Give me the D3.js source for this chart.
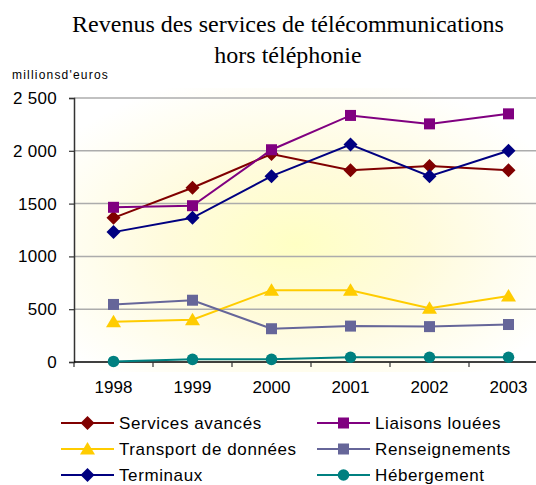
<!DOCTYPE html>
<html>
<head>
<meta charset="utf-8">
<script src="https://cdn.jsdelivr.net/npm/d3@7"></script>
<style>
  body { margin: 0; background: #fff; }
  svg { display: block; }
</style>
</head>
<body>
<div class="chart"></div>
<script>
const years = ["1998", "1999", "2000", "2001", "2002", "2003"]
const yTicks = [0, 500, 1000, 1500, 2000, 2500]
const yTickLabels = ["0", "500", "1000", "1500", "2 000", "2 500"]

const servicesAvances = [1365, 1650, 1970, 1815, 1855, 1815]
const liaisonsLouees = [1465, 1480, 2010, 2335, 2255, 2350]
const transport = [380, 400, 680, 680, 510, 625]
const renseignements = [545, 585, 315, 340, 335, 355]
const terminaux = [1230, 1365, 1760, 2060, 1760, 2000]
const hebergement = [5, 25, 25, 45, 45, 45]

const series = [
  {name: "Services avancés", values: servicesAvances, color: "#800000", shape: "diamond"},
  {name: "Liaisons louées", values: liaisonsLouees, color: "#800080", shape: "square"},
  {name: "Transport de données", values: transport, color: "#FFCC00", shape: "triangle"},
  {name: "Renseignements", values: renseignements, color: "#666699", shape: "square"},
  {name: "Terminaux", values: terminaux, color: "#000080", shape: "diamond"},
  {name: "Hébergement", values: hebergement, color: "#008080", shape: "circle"}
]

const W = 536, H = 485
const margin = {left: 74, top: 98, bottom: 362}
const band = 79
const sans = "Liberation Sans, Arial, sans-serif"

const svg = d3.select(".chart").append("svg")
  .attr("width", W)
  .attr("height", H)

// background glow
const defs = svg.append("defs")
const grad = defs.append("radialGradient")
  .attr("id", "glow")
  .attr("cx", "0.48").attr("cy", "0.55").attr("r", "0.62")
grad.append("stop").attr("offset", "0%").attr("stop-color", "#ffffc4")
grad.append("stop").attr("offset", "45%").attr("stop-color", "#fffbdc")
grad.append("stop").attr("offset", "100%").attr("stop-color", "#ffffff")

svg.append("rect")
  .attr("x", margin.left).attr("y", margin.top - 10)
  .attr("width", W - margin.left).attr("height", margin.bottom - margin.top + 20)
  .attr("fill", "url(#glow)")

const x = d3.scaleBand()
  .domain(years)
  .range([margin.left, margin.left + band * years.length])

const y = d3.scaleLinear()
  .domain([0, 2500])
  .range([margin.bottom, margin.top])

// gridlines
svg.append("g")
  .selectAll("line")
  .data(yTicks.filter(d => d > 0))
  .enter()
  .append("line")
  .attr("x1", margin.left).attr("x2", W)
  .attr("y1", d => y(d)).attr("y2", d => y(d))
  .attr("stroke", "#acacac")
  .attr("stroke-width", 1.5)

// y axis
const yAxis = d3.axisLeft(y)
  .tickValues(yTicks)
  .tickSize(5)
  .tickFormat((d, i) => yTickLabels[i])

const yAxisGroup = svg.append("g")
  .attr("transform", `translate(${margin.left},0)`)
  .call(yAxis)
yAxisGroup.select(".domain").attr("stroke", "#333").attr("stroke-width", 1.5)
yAxisGroup.selectAll(".tick line").attr("stroke", "#333").attr("stroke-width", 1.2)
yAxisGroup.selectAll("text")
  .attr("font-family", sans)
  .attr("font-size", 17)
  .attr("letter-spacing", 0.3)
  .attr("fill", "#000")
  .attr("x", -17)

// x axis
const boundaries = d3.range(years.length + 1).map(i => margin.left + i * band)
svg.append("line")
  .attr("x1", margin.left).attr("x2", W)
  .attr("y1", margin.bottom).attr("y2", margin.bottom)
  .attr("stroke", "#000").attr("stroke-width", 1.5)
svg.append("g")
  .selectAll("line")
  .data(boundaries)
  .enter()
  .append("line")
  .attr("x1", d => d).attr("x2", d => d)
  .attr("y1", margin.bottom).attr("y2", margin.bottom + 5)
  .attr("stroke", "#333").attr("stroke-width", 1.2)

svg.append("g")
  .selectAll("text")
  .data(years)
  .enter()
  .append("text")
  .attr("x", d => x(d) + band / 2)
  .attr("y", 393)
  .attr("text-anchor", "middle")
  .attr("font-family", sans)
  .attr("font-size", 17)
  .text(d => d)

function marker(g, shape, color, cx, cy) {
  if (shape === "diamond") {
    g.append("path")
      .attr("d", `M${cx},${cy - 7}L${cx + 7},${cy}L${cx},${cy + 7}L${cx - 7},${cy}Z`)
      .attr("fill", color)
  } else if (shape === "square") {
    g.append("rect")
      .attr("x", cx - 5.5).attr("y", cy - 5.5)
      .attr("width", 11).attr("height", 11)
      .attr("fill", color)
  } else if (shape === "triangle") {
    g.append("path")
      .attr("d", `M${cx},${cy - 7}L${cx + 7.5},${cy + 5.5}L${cx - 7.5},${cy + 5.5}Z`)
      .attr("fill", color)
  } else {
    g.append("circle")
      .attr("cx", cx).attr("cy", cy).attr("r", 5.8)
      .attr("fill", color)
  }
}

const line = d3.line()
  .x((d, i) => x(years[i]) + band / 2)
  .y(d => y(d))

series.forEach(s => {
  const g = svg.append("g")
  g.append("path")
    .datum(s.values)
    .attr("d", line)
    .attr("fill", "none")
    .attr("stroke", s.color)
    .attr("stroke-width", 2)
  s.values.forEach((v, i) => marker(g, s.shape, s.color, x(years[i]) + band / 2, y(v)))
})

// title
svg.append("text")
  .attr("x", 288).attr("y", 32)
  .attr("text-anchor", "middle")
  .attr("font-family", "Liberation Serif, Times New Roman, serif")
  .attr("font-size", 24)
  .text("Revenus des services de télécommunications")
svg.append("text")
  .attr("x", 288).attr("y", 63)
  .attr("text-anchor", "middle")
  .attr("font-family", "Liberation Serif, Times New Roman, serif")
  .attr("font-size", 24)
  .text("hors téléphonie")

svg.append("text")
  .attr("x", 12).attr("y", 79)
  .attr("font-family", sans)
  .attr("font-size", 12)
  .attr("letter-spacing", 1.2)
  .text("millionsd'euros")

// legend
const legend = svg.append("g")
series.forEach((s, i) => {
  const col = i % 2, row = Math.floor(i / 2)
  const lx = col === 0 ? 61 : 317
  const ly = 423 + row * 26
  const g = legend.append("g")
  g.append("line")
    .attr("x1", lx).attr("x2", lx + 53)
    .attr("y1", ly).attr("y2", ly)
    .attr("stroke", s.color).attr("stroke-width", 2)
  marker(g, s.shape, s.color, lx + 26.5, ly)
  g.append("text")
    .attr("x", lx + 58).attr("y", ly + 6)
    .attr("font-family", sans)
    .attr("font-size", 17)
    .attr("letter-spacing", 0.6)
    .text(s.name)
})
</script>
</body>
</html>
